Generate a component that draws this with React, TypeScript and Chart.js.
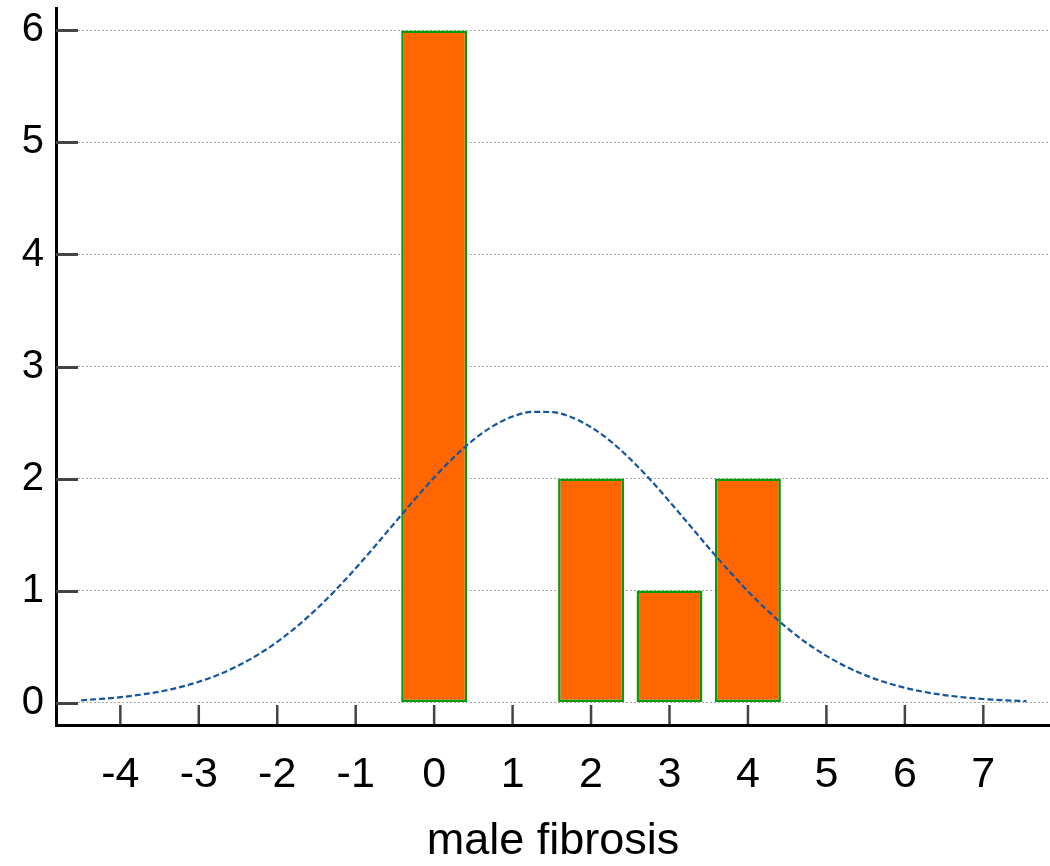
import React, { useEffect, useRef } from "react";
import { Chart, registerables } from "chart.js";

Chart.register(...registerables);

// Histogram: bin centres and counts
const binCenters = [0, 2, 3, 4];
const binCounts = [6, 2, 1, 2];

// Fitted normal curve
const curveX = [
  -4.5, -4.25, -4.0, -3.75, -3.5, -3.25, -3.0, -2.75, -2.5, -2.25, -2.0, -1.75,
  -1.5, -1.25, -1.0, -0.75, -0.5, -0.25, 0.0, 0.25, 0.5, 0.75, 1.0, 1.25, 1.5,
  1.75, 2.0, 2.25, 2.5, 2.75, 3.0, 3.25, 3.5, 3.75, 4.0, 4.25, 4.5, 4.75, 5.0,
  5.25, 5.5, 5.75, 6.0, 6.25, 6.5, 6.75, 7.0, 7.25, 7.55,
];
const curveY = [
  0.02, 0.033, 0.048, 0.07, 0.098, 0.136, 0.186, 0.249, 0.329, 0.426, 0.542,
  0.679, 0.835, 1.009, 1.199, 1.4, 1.607, 1.812, 2.009, 2.189, 2.345, 2.468,
  2.553, 2.595, 2.593, 2.547, 2.458, 2.332, 2.174, 1.993, 1.795, 1.589, 1.382,
  1.182, 0.993, 0.82, 0.666, 0.531, 0.417, 0.321, 0.243, 0.181, 0.132, 0.095,
  0.067, 0.047, 0.032, 0.021, 0.013,
];

const xTicks = [-4, -3, -2, -1, 0, 1, 2, 3, 4, 5, 6, 7];
const yTicks = [0, 1, 2, 3, 4, 5, 6];

const xTitle = "male fibrosis";

const FONT = "'Liberation Sans', Arial, sans-serif";

const tickMarks = {
  id: "tickMarks",
  beforeDatasetsDraw(chart: any) {
    const { ctx, chartArea, scales } = chart;
    const x = scales.x;
    const y = scales.y;
    ctx.save();
    ctx.strokeStyle = "#444";
    ctx.lineWidth = 3;
    y.ticks.forEach((t: any) => {
      const py = Math.round(y.getPixelForValue(t.value)) + 0.5;
      ctx.beginPath();
      ctx.moveTo(chartArea.left, py);
      ctx.lineTo(chartArea.left + 22, py);
      ctx.stroke();
    });
    ctx.lineWidth = 2.5;
    x.ticks.forEach((t: any) => {
      const px = x.getPixelForValue(t.value);
      ctx.beginPath();
      ctx.moveTo(px, chartArea.bottom - 1);
      ctx.lineTo(px, chartArea.bottom - 20);
      ctx.stroke();
    });
    ctx.restore();
  },
};

export default function App() {
  const ref = useRef<HTMLCanvasElement | null>(null);

  useEffect(() => {
    if (!ref.current) return;
    const chart = new Chart(ref.current, {
      type: "bar",
      data: {
        datasets: [
          {
            type: "line",
            data: curveX.map((x, i) => ({ x, y: curveY[i] })),
            borderColor: "#14559f",
            borderWidth: 2.2,
            borderDash: [6, 3],
            pointRadius: 0,
            fill: false,
            cubicInterpolationMode: "monotone",
            order: 0,
          } as any,
          {
            type: "bar",
            data: binCenters.map((x, i) => ({ x, y: binCounts[i] })),
            backgroundColor: "#ff6600",
            borderColor: "#0a9a0a",
            borderWidth: 2.5,
            borderSkipped: false,
            categoryPercentage: 1,
            barPercentage: 0.84,
            order: 1,
          } as any,
        ],
      },
      options: {
        animation: false,
        responsive: false,
        maintainAspectRatio: false,
        layout: { padding: { top: 8, right: 0, left: 0, bottom: 0 } },
        plugins: {
          legend: { display: false },
          tooltip: { enabled: false },
        },
        scales: {
          x: {
            type: "linear",
            min: -4.82,
            max: 7.85,
            offset: false,
            afterBuildTicks: (s: any) => {
              s.ticks = xTicks.map((v) => ({ value: v }));
            },
            afterFit: (s: any) => {
              s.height = 141;
              s.paddingLeft = 0;
              s.paddingRight = 0;
            },
            grid: { display: false, drawTicks: false },
            border: { display: true, color: "#000", width: 3 },
            ticks: {
              color: "#000",
              padding: 24,
              maxRotation: 0,
              autoSkip: false,
              font: { family: FONT, size: 43 },
            },
            title: {
              display: true,
              text: xTitle,
              color: "#000",
              font: { family: FONT, size: 45 },
              padding: { top: 0, bottom: -3 },
            },
          },
          y: {
            type: "linear",
            min: -0.2,
            max: 6.2,
            afterBuildTicks: (s: any) => {
              s.ticks = yTicks.map((v) => ({ value: v }));
            },
            afterFit: (s: any) => {
              s.width = 56;
              s.paddingTop = 0;
              s.paddingBottom = 0;
            },
            grid: {
              display: true,
              drawTicks: false,
              color: "#aaaaaa",
              lineWidth: 1,
            },
            border: { display: true, color: "#000", width: 3, dash: [2, 2] },
            ticks: {
              color: "#000",
              padding: 12,
              font: { family: FONT, size: 40 },
            },
          },
        },
      } as any,
      plugins: [tickMarks],
    });
    return () => chart.destroy();
  }, []);

  return (
    <div style={{ position: "absolute", left: 0, top: 0, width: 1050, height: 866 }}>
      <canvas ref={ref} width={1050} height={866} />
    </div>
  );
}
